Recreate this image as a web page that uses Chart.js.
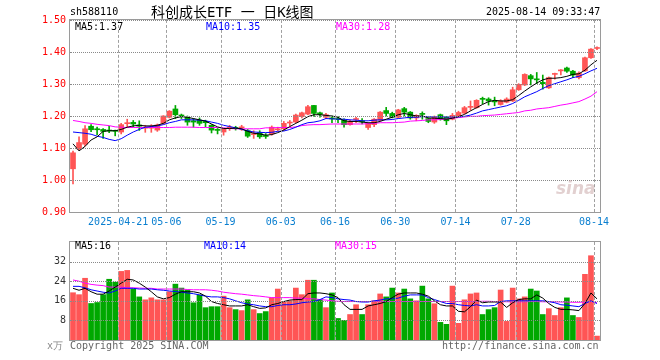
<!DOCTYPE html>
<html>
<head>
<meta charset="utf-8">
<script src="https://cdn.jsdelivr.net/npm/chart.js@4.4.0/dist/chart.umd.min.js"></script>
<style>
body { margin: 0; background: #fff; width: 660px; height: 360px; position: relative; overflow: hidden; font-family: "DejaVu Sans Mono", monospace; }
.t { position: absolute; white-space: nowrap; font-size: 10px; line-height: 12px; color: #000; z-index: 3; }
.g { position: absolute; z-index: 2; box-sizing: border-box; }
.hg { border-top: 1px dotted #8a8a8a; }
.vg { border-left: 1px dashed #a0a0a0; }
.fr { border: 1px solid #9a9a9a; }
canvas { position: absolute; left: 0; z-index: 1; }
</style>
</head>
<body>
<div class="t" style="left:70px;top:6px;">sh588110</div>
<div class="t" style="left:151px;top:3px;font-family:'DejaVu Sans Mono','Noto Sans CJK SC';font-size:14px;line-height:18px;">科创成长ETF 一 日K线图</div>
<div class="t" style="left:486px;top:6px;">2025-08-14 09:33:47</div>

<canvas id="kline" width="660" height="232" style="top:0"></canvas>
<canvas id="vol" width="660" height="128" style="top:232px"></canvas>

<div class="t" style="left:75px;top:21px;">MA5:1.37</div>
<div class="t" style="left:206px;top:21px;color:#0000ff;">MA10:1.35</div>
<div class="t" style="left:336px;top:21px;color:#ff00ff;">MA30:1.28</div>
<div class="t" style="left:75px;top:240px;">MA5:16</div>
<div class="t" style="left:204px;top:240px;color:#0000ff;">MA10:14</div>
<div class="t" style="left:335px;top:240px;color:#ff00ff;">MA30:15</div>
<div class="t" style="left:556px;top:178px;font-family:'DejaVu Sans';font-style:italic;font-weight:bold;font-size:17px;line-height:20px;color:rgba(190,150,150,0.45);">sina</div>

<div class="t" style="left:47px;top:340px;color:#888;">x万</div>
<div class="t" style="left:70px;top:340px;color:#666;">Copyright 2025 SINA.COM</div>
<div class="t" style="left:442px;top:340px;color:#666;">http://finance.sina.com.cn</div>

<script>
// trading days shown
const dates = [
  "2025-04-09","2025-04-10","2025-04-11","2025-04-14","2025-04-15","2025-04-16","2025-04-17","2025-04-18","2025-04-21","2025-04-22",
  "2025-04-23","2025-04-24","2025-04-25","2025-04-28","2025-04-29","2025-04-30","2025-05-06","2025-05-07","2025-05-08","2025-05-09",
  "2025-05-12","2025-05-13","2025-05-14","2025-05-15","2025-05-16","2025-05-19","2025-05-20","2025-05-21","2025-05-22","2025-05-23",
  "2025-05-26","2025-05-27","2025-05-28","2025-05-29","2025-05-30","2025-06-03","2025-06-04","2025-06-05","2025-06-06","2025-06-09",
  "2025-06-10","2025-06-11","2025-06-12","2025-06-13","2025-06-16","2025-06-17","2025-06-18","2025-06-19","2025-06-20","2025-06-23",
  "2025-06-24","2025-06-25","2025-06-26","2025-06-27","2025-06-30","2025-07-01","2025-07-02","2025-07-03","2025-07-04","2025-07-07",
  "2025-07-08","2025-07-09","2025-07-10","2025-07-11","2025-07-14","2025-07-15","2025-07-16","2025-07-17","2025-07-18","2025-07-21",
  "2025-07-22","2025-07-23","2025-07-24","2025-07-25","2025-07-28","2025-07-29","2025-07-30","2025-07-31","2025-08-01","2025-08-04",
  "2025-08-05","2025-08-06","2025-08-07","2025-08-08","2025-08-11","2025-08-12","2025-08-13","2025-08-14"
];

// which dates get an x label, and the text used
const tickDates = ["2025-04-21","2025-05-06","2025-05-19","2025-06-03","2025-06-16","2025-06-30","2025-07-14","2025-07-28","2025-08-14"];
const tickTexts = ["2025-04-21","05-06","05-19","06-03","06-16","06-30","07-14","07-28","08-14"];

const priceTicks = [0.9, 1.0, 1.1, 1.2, 1.3, 1.4, 1.5];
const volTicks = [8, 16, 24, 32];

const opens = [
  1.035,1.097,1.112,1.168,1.159,1.158,1.155,1.155,1.150,1.176,
  1.180,1.172,1.162,1.162,1.156,1.177,1.196,1.222,1.202,1.196,
  1.185,1.187,1.183,1.171,1.157,1.150,1.162,1.163,1.163,1.154,
  1.142,1.148,1.138,1.144,1.157,1.160,1.178,1.181,1.198,1.206,
  1.233,1.210,1.196,1.193,1.191,1.187,1.173,1.189,1.184,1.164,
  1.173,1.187,1.217,1.208,1.196,1.223,1.212,1.194,1.207,1.192,
  1.181,1.204,1.196,1.190,1.201,1.209,1.227,1.226,1.254,1.253,
  1.246,1.236,1.243,1.247,1.282,1.297,1.326,1.315,1.305,1.288,
  1.330,1.341,1.350,1.340,1.320,1.341,1.382,1.411
];
const closes = [
  1.085,1.117,1.160,1.157,1.157,1.152,1.153,1.152,1.173,1.178,
  1.175,1.168,1.165,1.166,1.172,1.200,1.215,1.204,1.200,1.181,
  1.181,1.177,1.179,1.156,1.155,1.159,1.164,1.161,1.165,1.137,
  1.144,1.135,1.136,1.165,1.159,1.177,1.180,1.203,1.210,1.229,
  1.208,1.205,1.204,1.191,1.189,1.173,1.183,1.191,1.182,1.177,
  1.190,1.212,1.208,1.196,1.219,1.212,1.194,1.202,1.205,1.183,
  1.196,1.192,1.185,1.202,1.211,1.226,1.230,1.249,1.252,1.247,
  1.244,1.247,1.253,1.282,1.299,1.330,1.316,1.313,1.301,1.320,
  1.332,1.343,1.340,1.328,1.334,1.382,1.409,1.414
];
const highs = [
  1.090,1.135,1.170,1.173,1.165,1.161,1.168,1.156,1.177,1.190,
  1.186,1.185,1.171,1.173,1.175,1.201,1.217,1.233,1.206,1.200,
  1.192,1.194,1.187,1.173,1.161,1.162,1.171,1.168,1.171,1.158,
  1.154,1.154,1.145,1.169,1.165,1.183,1.186,1.206,1.212,1.233,
  1.233,1.212,1.208,1.200,1.198,1.191,1.187,1.196,1.192,1.179,
  1.192,1.214,1.227,1.212,1.221,1.227,1.214,1.204,1.213,1.194,
  1.200,1.206,1.198,1.208,1.215,1.230,1.247,1.251,1.259,1.257,
  1.259,1.251,1.257,1.290,1.301,1.332,1.330,1.336,1.328,1.322,
  1.334,1.345,1.353,1.343,1.338,1.384,1.411,1.416
];
const lows = [
  0.988,1.094,1.106,1.151,1.142,1.130,1.148,1.138,1.144,1.165,
  1.166,1.155,1.149,1.149,1.152,1.175,1.194,1.192,1.192,1.171,
  1.165,1.171,1.166,1.147,1.144,1.140,1.155,1.156,1.155,1.133,
  1.130,1.130,1.130,1.140,1.154,1.156,1.169,1.179,1.194,1.204,
  1.198,1.196,1.192,1.179,1.179,1.165,1.171,1.179,1.175,1.158,
  1.167,1.185,1.200,1.194,1.194,1.200,1.190,1.185,1.190,1.179,
  1.177,1.187,1.173,1.188,1.199,1.207,1.218,1.224,1.238,1.234,
  1.232,1.234,1.241,1.245,1.280,1.295,1.297,1.301,1.284,1.286,
  1.315,1.328,1.336,1.320,1.316,1.339,1.380,1.407
];

const ma5 = [
  1.113,1.091,1.105,1.125,1.135,1.152,1.154,1.154,1.158,1.165,
  1.169,1.171,1.169,1.169,1.171,1.177,1.188,1.194,1.198,1.196,
  1.192,1.188,1.184,1.175,1.166,1.161,1.161,1.162,1.160,1.152,
  1.146,1.144,1.140,1.142,1.148,1.156,1.167,1.177,1.187,1.198,
  1.204,1.204,1.202,1.200,1.196,1.185,1.183,1.183,1.181,1.179,
  1.179,1.183,1.190,1.196,1.204,1.208,1.204,1.200,1.200,1.194,
  1.193,1.192,1.190,1.193,1.198,1.205,1.216,1.226,1.236,1.245,
  1.249,1.247,1.247,1.251,1.264,1.278,1.291,1.303,1.313,1.318,
  1.318,1.320,1.324,1.330,1.332,1.343,1.360,1.374
];
const ma10 = [
  1.150,1.148,1.146,1.143,1.137,1.133,1.127,1.123,1.129,1.140,
  1.150,1.158,1.165,1.167,1.169,1.173,1.179,1.183,1.188,1.188,
  1.188,1.187,1.185,1.181,1.177,1.171,1.167,1.163,1.158,1.154,
  1.150,1.149,1.148,1.149,1.152,1.153,1.158,1.165,1.173,1.179,
  1.181,1.185,1.192,1.191,1.190,1.190,1.188,1.187,1.185,1.185,
  1.187,1.188,1.188,1.189,1.192,1.194,1.196,1.196,1.198,1.198,
  1.197,1.198,1.197,1.197,1.197,1.199,1.203,1.209,1.216,1.220,
  1.224,1.228,1.232,1.239,1.249,1.260,1.268,1.276,1.286,1.295,
  1.301,1.307,1.313,1.320,1.324,1.332,1.341,1.349
];
const ma30 = [
  1.186,1.183,1.179,1.177,1.174,1.172,1.170,1.166,1.165,1.164,
  1.164,1.164,1.164,1.164,1.164,1.164,1.164,1.165,1.165,1.165,
  1.165,1.164,1.164,1.164,1.164,1.163,1.161,1.160,1.160,1.160,
  1.160,1.160,1.163,1.163,1.164,1.164,1.164,1.166,1.170,1.172,
  1.173,1.173,1.174,1.175,1.175,1.175,1.175,1.175,1.175,1.176,
  1.177,1.179,1.179,1.179,1.180,1.181,1.184,1.185,1.186,1.188,
  1.188,1.189,1.191,1.193,1.195,1.197,1.199,1.199,1.201,1.202,
  1.203,1.205,1.207,1.209,1.211,1.216,1.218,1.222,1.224,1.226,
  1.230,1.234,1.237,1.241,1.245,1.253,1.262,1.276
];

// volume, x万
const volumes = [
  19.3,18.5,25.2,14.9,15.3,18.5,24.8,23.6,28.0,28.4,
  20.8,17.6,16.4,17.2,16.4,16.4,19.7,22.8,21.2,20.4,
  15.2,18.4,13.2,13.6,13.6,17.9,13.2,12.4,12.0,16.4,
  12.4,10.8,11.6,17.2,20.8,15.6,16.0,21.2,18.5,24.4,
  24.4,16.5,13.2,19.2,8.8,8.0,10.4,14.4,10.4,14.4,
  16.0,18.8,17.6,21.2,19.2,20.8,16.8,16.0,22.0,16.8,
  14.8,7.2,6.4,22.0,6.8,16.4,18.8,19.2,10.4,12.4,
  13.2,20.4,7.6,21.2,16.8,17.6,20.8,20.0,10.4,12.8,
  10.0,13.2,17.2,10.0,9.2,26.8,34.4,1.6
];
const volMa5 = [
  21.1,20.3,21.1,19.7,18.7,18.7,20.0,21.6,23.2,24.8,
  24.5,23.2,21.6,19.7,17.6,16.8,17.3,18.7,19.7,19.7,
  19.7,19.2,17.9,15.7,14.9,14.4,13.9,13.9,13.9,14.4,
  13.6,12.9,13.1,14.4,14.9,15.7,16.3,16.5,16.5,18.9,
  19.2,19.2,18.9,18.4,17.3,14.4,12.5,12.5,12.5,13.9,
  14.4,14.9,15.7,17.3,18.7,19.2,19.2,19.2,18.7,17.9,
  16.0,14.4,13.9,13.9,11.7,11.5,13.6,16.3,15.2,15.5,
  15.5,15.5,13.3,15.2,16.5,16.8,16.8,18.4,17.1,14.9,
  13.3,12.5,12.5,12.3,12.0,14.9,19.2,16.8
];
const volMa10 = [
  21.9,21.9,21.3,20.5,20.0,19.5,19.2,20.0,21.1,21.1,
  21.1,20.8,20.8,20.8,20.5,20.3,20.0,19.8,19.5,19.2,
  18.9,18.4,17.9,17.6,17.6,17.3,16.8,16.0,15.2,14.7,
  14.4,13.9,13.6,13.6,14.1,14.4,14.4,14.7,15.2,15.5,
  15.7,16.5,17.6,17.3,16.8,16.5,16.3,15.7,15.5,15.5,
  16.0,16.3,16.8,16.8,17.1,17.9,18.4,18.4,18.4,17.3,
  16.5,15.7,14.9,14.9,14.4,14.1,13.9,14.4,13.9,13.9,
  14.1,15.7,16.0,16.0,16.0,16.0,16.0,16.0,16.0,15.7,
  15.2,14.4,14.2,13.9,13.6,14.9,16.0,14.9
];
const volMa30 = [
  24.5,24.0,23.2,22.7,22.4,22.2,21.6,21.6,21.6,21.3,
  21.3,21.2,21.1,21.1,20.8,20.8,20.8,20.8,20.8,20.6,
  20.5,20.5,20.5,20.3,20.0,19.5,19.2,18.9,18.7,18.4,
  18.1,17.9,17.6,17.3,17.3,17.3,17.3,17.1,17.1,16.8,
  16.8,16.5,16.3,16.0,15.8,15.7,15.7,15.7,15.7,15.7,
  15.7,15.7,15.7,15.7,15.7,15.7,15.7,15.7,15.7,15.7,
  15.7,15.7,15.7,15.7,15.7,15.7,15.7,15.7,15.8,15.8,
  15.7,15.7,15.6,15.6,15.6,15.6,15.7,15.7,15.6,15.6,
  15.6,15.5,15.5,15.4,15.4,15.5,15.7,15.2
];

const RED = "#ff5555";
const GREEN = "#00a800";
const colors = closes.map((c, i) => c >= opens[i] ? RED : GREEN);
const monoFont = { family: "DejaVu Sans Mono", size: 10 };

function maLine(label, data, color) {
  return { type: "line", label, data, borderColor: color, borderWidth: 1, pointRadius: 0, tension: 0, order: 0 };
}

// grid and frame, placed from the chart's own scales
function addGrid(chart, canvasTop) {
  const a = chart.chartArea;
  const x = chart.scales.x;
  const y = chart.scales.y;
  const add = (cls, left, top, w, h) => {
    const d = document.createElement("div");
    d.className = "g " + cls;
    d.style.left = left + "px";
    d.style.top = (canvasTop + top) + "px";
    d.style.width = w + "px";
    d.style.height = h + "px";
    document.body.appendChild(d);
  };
  const w = Math.round(a.right - a.left);
  const h = Math.round(a.bottom - a.top);
  y.ticks.forEach(t => add("hg", Math.round(a.left), Math.round(y.getPixelForValue(t.value)), w, 1));
  const half = (x.getPixelForValue(1) - x.getPixelForValue(0)) / 2;
  tickDates.forEach(d => add("vg", Math.round(x.getPixelForValue(dates.indexOf(d)) - half), Math.round(a.top), 1, h));
  add("fr", Math.round(a.left) - 1, Math.round(a.top) - 1, w + 2, h + 2);
}

// 1. K line
const kline = new Chart(document.getElementById("kline"), {
  type: "bar",
  data: {
    labels: dates,
    datasets: [
      maLine("MA5", ma5, "#000000"),
      maLine("MA10", ma10, "#0000ff"),
      maLine("MA30", ma30, "#ff00ff"),
      { label: "body", data: opens.map((o, i) => [o, closes[i]]), backgroundColor: colors, barThickness: 5, minBarLength: 1, grouped: false, order: 1 },
      { label: "wick", data: lows.map((l, i) => [l, highs[i]]), backgroundColor: colors, barThickness: 1, grouped: false, order: 2 }
    ]
  },
  options: {
    responsive: false,
    animation: false,
    layout: { padding: { left: 0, right: 60, top: 20, bottom: 0 } },
    plugins: { legend: { display: false }, tooltip: { enabled: false } },
    scales: {
      x: {
        offset: true,
        grid: { display: false, drawTicks: false },
        border: { display: false },
        ticks: {
          autoSkip: false, maxRotation: 0, padding: 4, labelOffset: -3,
          color: "#0a7fd0", font: monoFont,
          callback: (v, i) => {
            const k = tickDates.indexOf(dates[i]);
            return k >= 0 ? tickTexts[k] : "";
          }
        },
        afterFit: s => { s.height = 20; }
      },
      y: {
        min: priceTicks[0],
        max: priceTicks[priceTicks.length - 1],
        afterBuildTicks: s => { s.ticks = priceTicks.map(v => ({ value: v })); },
        grid: { display: false, drawTicks: false },
        border: { display: false },
        ticks: { padding: 4, color: "#ff0000", font: monoFont, callback: v => v.toFixed(2) },
        afterFit: s => { s.width = 70; }
      }
    }
  }
});

// 2. Volume
const vol = new Chart(document.getElementById("vol"), {
  type: "bar",
  data: {
    labels: dates,
    datasets: [
      maLine("MA5", volMa5, "#000000"),
      maLine("MA10", volMa10, "#0000ff"),
      maLine("MA30", volMa30, "#ff00ff"),
      { label: "vol", data: volumes, backgroundColor: colors, barThickness: 5, order: 1 }
    ]
  },
  options: {
    responsive: false,
    animation: false,
    layout: { padding: { left: 0, right: 60, top: 8, bottom: 20 } },
    plugins: { legend: { display: false }, tooltip: { enabled: false } },
    scales: {
      x: {
        offset: true,
        grid: { display: false, drawTicks: false },
        border: { display: false },
        ticks: { display: false },
        afterFit: s => { s.height = 0; }
      },
      y: {
        min: 0,
        max: 40,
        afterBuildTicks: s => { s.ticks = volTicks.map(v => ({ value: v })); },
        grid: { display: false, drawTicks: false },
        border: { display: false },
        ticks: { padding: 4, color: "#333333", font: monoFont },
        afterFit: s => { s.width = 70; }
      }
    }
  }
});

addGrid(kline, 0);
addGrid(vol, 232);
</script>
</body>
</html>
